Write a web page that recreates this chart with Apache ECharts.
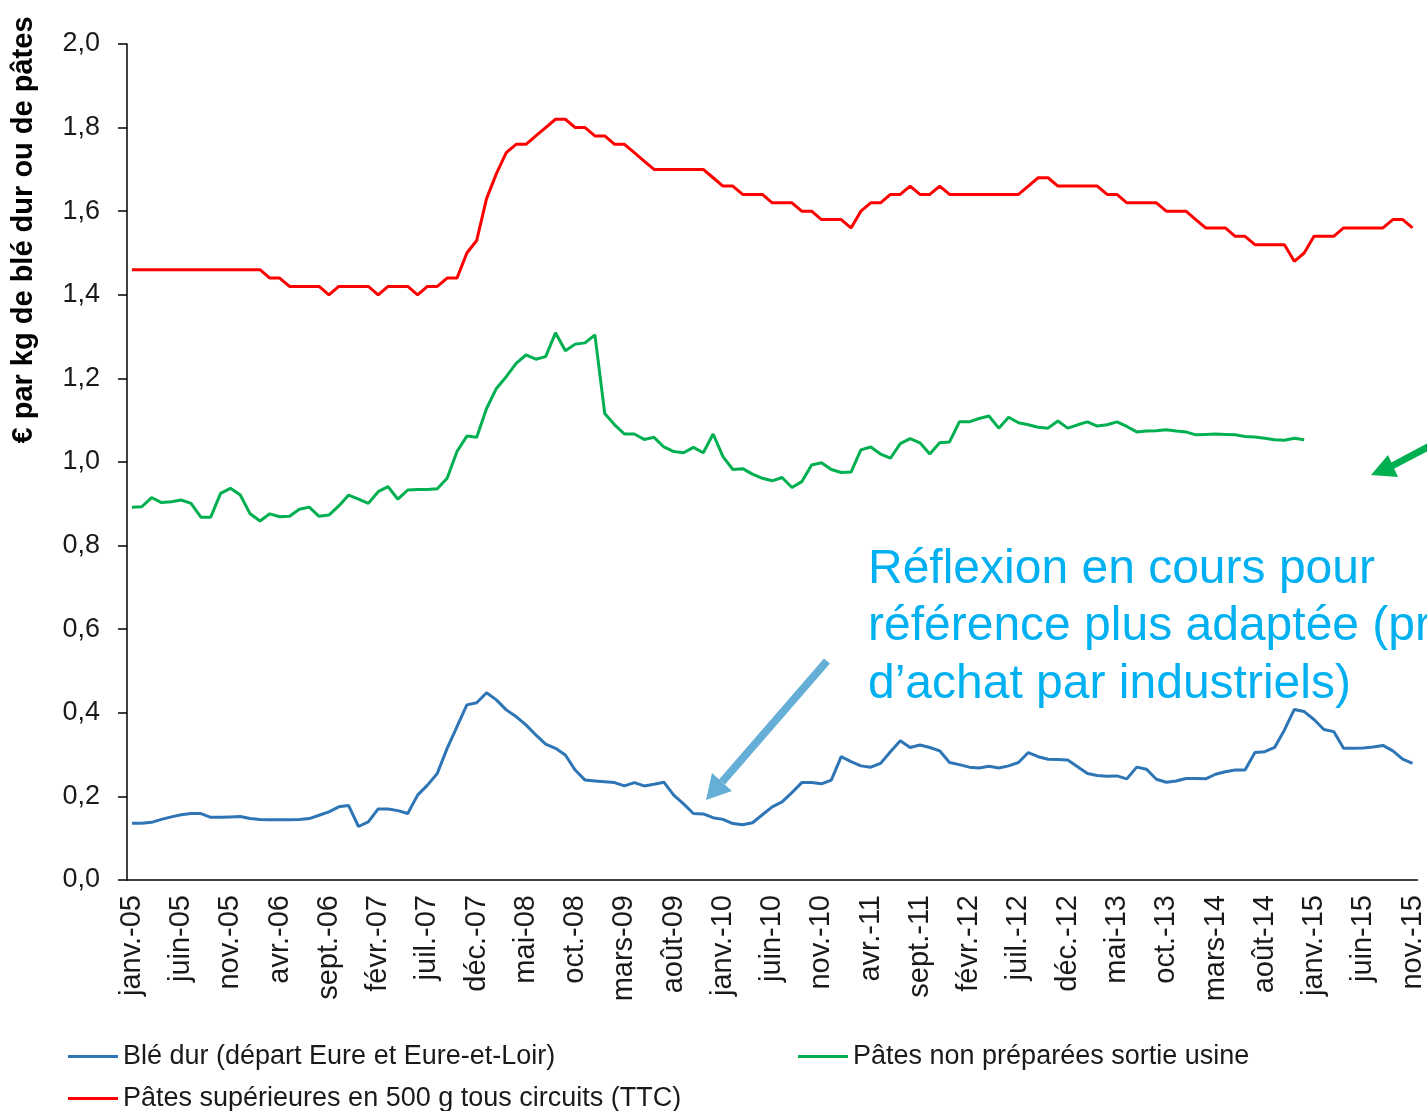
<!DOCTYPE html>
<html>
<head>
<meta charset="utf-8">
<script src="https://cdn.jsdelivr.net/npm/echarts@6/dist/echarts.min.js"></script>
<style>
  html, body { margin: 0; padding: 0; background: #fff; }
  #chart { width: 1427px; height: 1111px; }
</style>
</head>
<body>
<div id="chart"></div>
<script>
// mois de janv.-05 à nov.-15
var moisNoms = ['janv.', 'févr.', 'mars', 'avr.', 'mai', 'juin', 'juil.', 'août', 'sept.', 'oct.', 'nov.', 'déc.'];
var annees = ['05', '06', '07', '08', '09', '10', '11', '12', '13', '14', '15'];
var categories = [];
annees.forEach(function (a) {
  moisNoms.forEach(function (m) { categories.push(m + '-' + a); });
});
categories = categories.slice(0, 131);

// Blé dur (départ Eure et Eure-et-Loir)
var bleDur = [
  0.136, 0.136, 0.138, 0.145, 0.151, 0.156, 0.159, 0.159, 0.150, 0.150,
  0.151, 0.152, 0.147, 0.145, 0.144, 0.144, 0.144, 0.145, 0.147, 0.155,
  0.163, 0.175, 0.178, 0.128, 0.139, 0.170, 0.170, 0.166, 0.159, 0.203,
  0.227, 0.255, 0.315, 0.367, 0.419, 0.424, 0.448, 0.431, 0.407, 0.391,
  0.371, 0.347, 0.325, 0.315, 0.299, 0.263, 0.239, 0.237, 0.235, 0.233,
  0.225, 0.233, 0.225, 0.229, 0.234, 0.203, 0.182, 0.159, 0.158, 0.149,
  0.145, 0.135, 0.132, 0.137, 0.156, 0.175, 0.187, 0.209, 0.233, 0.233,
  0.230, 0.239, 0.295, 0.283, 0.273, 0.270, 0.279, 0.307, 0.333, 0.317,
  0.323, 0.317, 0.309, 0.281, 0.276, 0.270, 0.268, 0.272, 0.268, 0.273,
  0.281, 0.305, 0.295, 0.289, 0.288, 0.287, 0.271, 0.255, 0.250, 0.248,
  0.249, 0.242, 0.270, 0.265, 0.241, 0.234, 0.237, 0.243, 0.243, 0.242,
  0.253, 0.259, 0.263, 0.263, 0.305, 0.307, 0.317, 0.359, 0.408, 0.403,
  0.384, 0.360, 0.355, 0.315, 0.315, 0.316, 0.318, 0.322, 0.309, 0.289,
  0.279
];

// Pâtes non préparées sortie usine (s'arrête en déc.-14)
var patesUsine = [
  0.892, 0.893, 0.915, 0.903, 0.905, 0.909, 0.901, 0.868, 0.868, 0.925,
  0.937, 0.921, 0.876, 0.859, 0.876, 0.869, 0.870, 0.887, 0.892, 0.870,
  0.873, 0.895, 0.921, 0.911, 0.901, 0.929, 0.941, 0.911, 0.933, 0.934,
  0.934, 0.936, 0.961, 1.025, 1.062, 1.059, 1.128, 1.176, 1.204, 1.236,
  1.256, 1.246, 1.252, 1.309, 1.266, 1.282, 1.285, 1.304, 1.116, 1.089,
  1.067, 1.067, 1.054, 1.059, 1.036, 1.025, 1.022, 1.035, 1.022, 1.067,
  1.013, 0.982, 0.984, 0.971, 0.961, 0.955, 0.963, 0.939, 0.953, 0.993,
  0.998, 0.982, 0.975, 0.976, 1.029, 1.036, 1.019, 1.009, 1.044, 1.056,
  1.046, 1.019, 1.046, 1.048, 1.096, 1.096, 1.104, 1.110, 1.081, 1.107,
  1.094, 1.089, 1.083, 1.081, 1.098, 1.081, 1.089, 1.096, 1.086, 1.089,
  1.096, 1.085, 1.072, 1.074, 1.075, 1.077, 1.074, 1.072, 1.065, 1.066,
  1.067, 1.066, 1.065, 1.061, 1.060, 1.057, 1.053, 1.052, 1.057, 1.053,
  null, null, null, null, null, null, null, null, null, null,
  null
];

// Pâtes supérieures en 500 g tous circuits (TTC)
var patesTTC = [
  1.46, 1.46, 1.46, 1.46, 1.46, 1.46, 1.46, 1.46, 1.46, 1.46,
  1.46, 1.46, 1.46, 1.46, 1.44, 1.44, 1.42, 1.42, 1.42, 1.42,
  1.40, 1.42, 1.42, 1.42, 1.42, 1.40, 1.42, 1.42, 1.42, 1.40,
  1.42, 1.42, 1.44, 1.44, 1.50, 1.53, 1.63, 1.69, 1.74, 1.76,
  1.76, 1.78, 1.80, 1.82, 1.82, 1.80, 1.80, 1.78, 1.78, 1.76,
  1.76, 1.74, 1.72, 1.70, 1.70, 1.70, 1.70, 1.70, 1.70, 1.68,
  1.66, 1.66, 1.64, 1.64, 1.64, 1.62, 1.62, 1.62, 1.60, 1.60,
  1.58, 1.58, 1.58, 1.56, 1.60, 1.62, 1.62, 1.64, 1.64, 1.66,
  1.64, 1.64, 1.66, 1.64, 1.64, 1.64, 1.64, 1.64, 1.64, 1.64,
  1.64, 1.66, 1.68, 1.68, 1.66, 1.66, 1.66, 1.66, 1.66, 1.64,
  1.64, 1.62, 1.62, 1.62, 1.62, 1.60, 1.60, 1.60, 1.58, 1.56,
  1.56, 1.56, 1.54, 1.54, 1.52, 1.52, 1.52, 1.52, 1.48, 1.50,
  1.54, 1.54, 1.54, 1.56, 1.56, 1.56, 1.56, 1.56, 1.58, 1.58,
  1.56
];

var nomBle = 'Blé dur (départ Eure et Eure-et-Loir)';
var nomUsine = 'Pâtes non préparées sortie usine';
var nomTTC = 'Pâtes supérieures en 500 g tous circuits (TTC)';

var police = "'Liberation Sans', Arial, sans-serif";
var bleuTexte = '#00B0F0';

var myChart = echarts.init(document.getElementById('chart'));
myChart.setOption({
  animation: false,
  backgroundColor: '#fff',
  textStyle: { fontFamily: police },
  grid: { left: 127, right: 5, top: 44, bottom: 231 },
  legend: [
    { data: [nomBle], left: 63, top: 1038 },
    { data: [nomUsine], left: 793, top: 1038 },
    { data: [nomTTC], left: 63, top: 1080 }
  ].map(function (l) {
    l.icon = 'rect';
    l.itemWidth = 50;
    l.itemHeight = 3;
    l.itemGap = 4;
    l.textStyle = { fontSize: 27, color: '#1a1a1a', fontFamily: police };
    return l;
  }),
  xAxis: {
    type: 'category',
    data: categories,
    boundaryGap: true,
    axisLine: { lineStyle: { color: '#000', width: 1.5 } },
    axisTick: { interval: 4, length: 9, lineStyle: { color: '#000', width: 1.5 } },
    axisLabel: { interval: 4, rotate: 90, margin: 15, fontSize: 29, color: '#1a1a1a' },
    splitLine: { show: false }
  },
  yAxis: {
    type: 'value',
    min: 0,
    max: 2,
    interval: 0.2,
    axisLine: { show: true, lineStyle: { color: '#000', width: 1.5 } },
    axisTick: { show: true, length: 9, lineStyle: { color: '#000', width: 1.5 } },
    axisLabel: {
      margin: 27,
      fontSize: 27,
      color: '#1a1a1a',
      formatter: function (v) { return v.toFixed(1).replace('.', ','); }
    },
    splitLine: { show: false }
  },
  series: [
    {
      name: nomBle, type: 'line', data: bleDur, symbol: 'none',
      itemStyle: { color: '#2E75B6' }, lineStyle: { color: '#2E75B6', width: 3 }
    },
    {
      name: nomUsine, type: 'line', data: patesUsine, symbol: 'none',
      itemStyle: { color: '#00B050' }, lineStyle: { color: '#00B050', width: 3 }
    },
    {
      name: nomTTC, type: 'line', data: patesTTC, symbol: 'none',
      itemStyle: { color: '#FF0000' }, lineStyle: { color: '#FF0000', width: 3 }
    }
  ],
  graphic: [
    // titre de l'axe vertical
    {
      type: 'text', x: 24, y: 230, rotation: Math.PI / 2,
      style: {
        text: '€ par kg de blé dur ou de pâtes',
        font: 'bold 29px ' + police, fill: '#000',
        align: 'center', verticalAlign: 'middle'
      }
    },
    // commentaire
    {
      type: 'text', x: 868, y: 570,
      style: { text: 'Réflexion en cours pour', font: '48px ' + police, fill: bleuTexte, verticalAlign: 'middle' }
    },
    {
      type: 'text', x: 868, y: 627,
      style: { text: 'référence plus adaptée (prix', font: '48px ' + police, fill: bleuTexte, verticalAlign: 'middle' }
    },
    {
      type: 'text', x: 868, y: 685,
      style: { text: 'd’achat par industriels)', font: '48px ' + police, fill: bleuTexte, verticalAlign: 'middle' }
    },
    // flèche bleue
    {
      type: 'line',
      shape: { x1: 827, y1: 661, x2: 722, y2: 782 },
      style: { stroke: '#65AFD7', lineWidth: 8 }
    },
    {
      type: 'polygon',
      shape: { points: [[706, 800], [712, 773], [732, 791]] },
      style: { fill: '#65AFD7' }
    },
    // flèche verte (coupée au bord)
    {
      type: 'line',
      shape: { x1: 1430, y1: 446, x2: 1390, y2: 467 },
      style: { stroke: '#00B050', lineWidth: 7 }
    },
    {
      type: 'polygon',
      shape: { points: [[1371, 475], [1388, 455], [1398, 477]] },
      style: { fill: '#00B050' }
    }
  ]
});
</script>
</body>
</html>
